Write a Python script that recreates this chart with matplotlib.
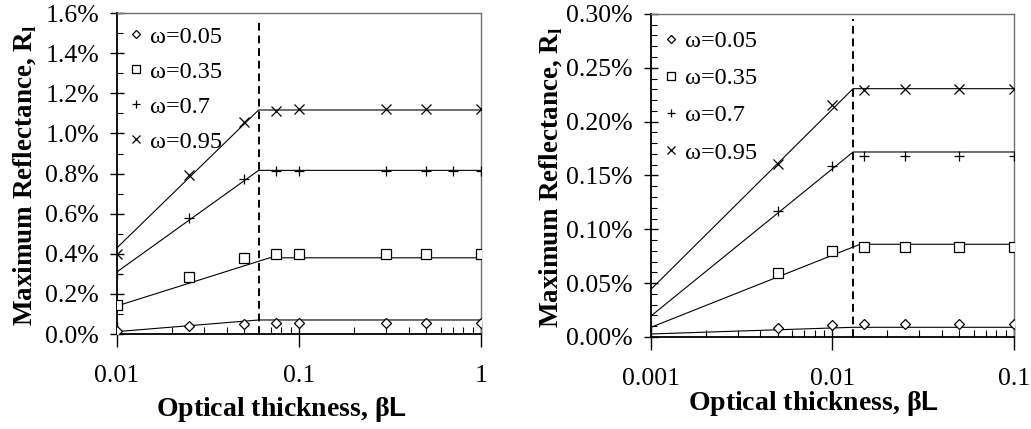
import matplotlib
matplotlib.use("Agg")
import matplotlib.pyplot as plt
from matplotlib.ticker import FuncFormatter, MultipleLocator, LogLocator

plt.rcParams['font.family'] = ['Liberation Serif', 'DejaVu Serif']
plt.rcParams['mathtext.fontset'] = 'custom'
plt.rcParams['mathtext.rm'] = 'Liberation Serif'
plt.rcParams['mathtext.bf'] = 'Liberation Serif:bold'
plt.rcParams['mathtext.sf'] = 'Liberation Sans:bold'

labels = ['ω=0.05', 'ω=0.35', 'ω=0.7', 'ω=0.95']
markers = ['D', 's', '+', 'x']
msizes = {'D': 5.5, 's': 7.5, '+': 7.5, 'x': 6.5}

# ---- left panel (values in %) ----
left_x = [0.01, 0.025, 0.05, 0.075, 0.1, 0.3, 0.5, 1.0]
left_x_plus = [0.01, 0.025, 0.05, 0.075, 0.1, 0.3, 0.5, 0.7, 1.0]
left_pts = [
    [0.015, 0.038, 0.050, 0.053, 0.053, 0.053, 0.053, 0.053],
    [0.145, 0.286, 0.380, 0.397, 0.397, 0.397, 0.397, 0.397],
    [0.300, 0.580, 0.773, 0.813, 0.813, 0.813, 0.813, 0.813, 0.813],
    [0.400, 0.793, 1.058, 1.112, 1.122, 1.122, 1.122, 1.122],
]
left_fit_x = [[0.01, 0.06, 1.0], [0.01, 0.069, 1.0], [0.01, 0.06, 1.0], [0.01, 0.06, 1.0]]
left_fit_y = [[0.012, 0.070, 0.070], [0.140, 0.380, 0.380],
              [0.310, 0.816, 0.816], [0.430, 1.117, 1.117]]
left_cut = 0.06

# ---- right panel (values in %) ----
right_x = [0.005, 0.01, 0.015, 0.025, 0.05, 0.1]
right_pts = [
    [0.0081, 0.0111, 0.0118, 0.0118, 0.0118, 0.0118],
    [0.0590, 0.0800, 0.0838, 0.0838, 0.0838, 0.0838],
    [0.1173, 0.1590, 0.1680, 0.1680, 0.1680, 0.1680],
    [0.1603, 0.2154, 0.2290, 0.2300, 0.2300, 0.2300],
]
right_fit_x = [[0.001, 0.013, 0.1], [0.001, 0.0142, 0.1], [0.001, 0.013, 0.1], [0.001, 0.013, 0.1]]
right_fit_y = [[0.0028, 0.0090, 0.0090], [0.0090, 0.0861, 0.0861],
               [0.0195, 0.1718, 0.1718], [0.0443, 0.2306, 0.2306]]
right_cut = 0.013

fig = plt.figure(figsize=(10.31, 4.29), dpi=100)
ax1 = fig.add_axes([0.1135, 0.2214, 0.353, 0.748])
ax2 = fig.add_axes([0.6314, 0.2145, 0.352, 0.753])


def draw_panel(ax, xs_list, pts, fit_x, fit_y, cut, xlim, ylim, ymaj, ymin, ydec,
               leg_anchor, leg_space):
    for i in range(4):
        ax.plot(fit_x[i], fit_y[i], color='black', lw=0.8, zorder=2)
    for i in range(4):
        ax.plot(xs_list[i], pts[i], linestyle='none', marker=markers[i],
                ms=msizes[markers[i]], mfc='white', mec='black', mew=0.9,
                label=labels[i], zorder=3)
    ax.axvline(cut, ymin=0, ymax=0.985, color='black', lw=1.4, ls=(0, (4, 2.5)), zorder=4)

    ax.set_xscale('log')
    ax.set_xlim(*xlim)
    ax.set_ylim(*ylim)
    ax.xaxis.set_major_formatter(FuncFormatter(lambda v, p: f"{v:g}"))
    ax.xaxis.set_minor_locator(LogLocator(subs=range(2, 10)))
    ax.xaxis.set_minor_formatter(FuncFormatter(lambda v, p: ""))
    ax.yaxis.set_major_locator(MultipleLocator(ymaj))
    ax.yaxis.set_minor_locator(MultipleLocator(ymin))
    ax.yaxis.set_major_formatter(FuncFormatter(lambda v, p: f"{v:.{ydec}f}%"))

    ax.tick_params(axis='y', which='major', direction='inout', length=10, width=1,
                   labelsize=18.5, pad=8)
    ax.tick_params(axis='y', which='minor', direction='in', length=4, width=0.8)
    ax.tick_params(axis='x', which='major', direction='inout', length=18, width=1,
                   labelsize=18.5, pad=13)
    ax.tick_params(axis='x', which='minor', direction='in', length=5, width=0.8)

    for s in ('left', 'bottom'):
        ax.spines[s].set_linewidth(1.3)
        ax.spines[s].set_color('black')
    for s in ('top', 'right'):
        ax.spines[s].set_linewidth(1.0)
        ax.spines[s].set_color('#707070')

    ax.set_ylabel(r"Maximum Reflectance, R$_\mathbf{l}$", fontsize=19.5,
                  fontweight='bold', va='center')
    ax.set_xlabel(r"Optical thickness, β$\mathsf{L}$", fontsize=20,
                  fontweight='bold', va='center')
    ax.legend(loc='upper left', bbox_to_anchor=leg_anchor, frameon=False,
              fontsize=17.5, handlelength=0.6, handletextpad=0.28,
              labelspacing=leg_space, borderaxespad=0.3, markerscale=0.8)


left_xs = [left_x, left_x, left_x_plus, left_x]
right_xs = [right_x] * 4
draw_panel(ax1, left_xs, left_pts, left_fit_x, left_fit_y, left_cut,
           (0.01, 1.0), (0, 1.6), 0.2, 0.1, 1, (-0.015, 1.013), 0.53)
draw_panel(ax2, right_xs, right_pts, right_fit_x, right_fit_y, right_cut,
           (0.001, 0.1), (0, 0.30), 0.05, 0.01, 2, (-0.011, 1.002), 0.62)

ax1.yaxis.set_label_coords(-0.253, 0.495)
ax2.yaxis.set_label_coords(-0.278, 0.495)
ax1.xaxis.set_label_coords(0.453, -0.234)
ax2.xaxis.set_label_coords(0.449, -0.207)

fig.savefig("out.png", dpi=100)
